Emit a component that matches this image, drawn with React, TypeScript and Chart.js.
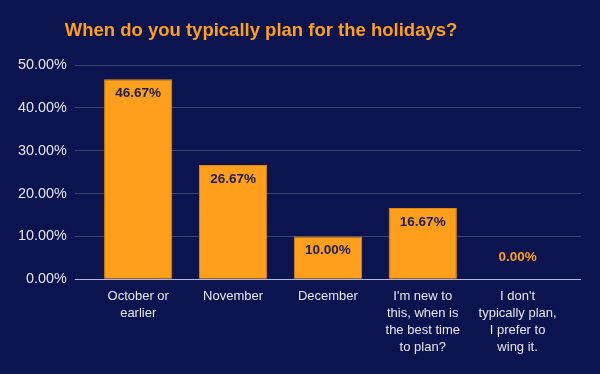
import React, { useEffect, useRef } from "react";
import { Chart, registerables } from "chart.js";

Chart.register(...registerables);

const TITLE = "When do you typically plan for the holidays?";
const categories: (string | string[])[] = [
  ["October or", "earlier"],
  "November",
  "December",
  ["I'm new to", "this, when is", "the best time", "to plan?"],
  ["I don't", "typically plan,", "I prefer to", "wing it."],
];
const values = [46.67, 26.67, 10.0, 16.67, 0.0];
const yTicks = [0, 10, 20, 30, 40, 50];

const BG = "#0c1450";
const ORANGE = "#ff9f1c";
const TEXT = "#e4e6f0";
const FONT = "'Liberation Sans', Arial, sans-serif";

const bgPlugin = {
  id: "bgPlugin",
  beforeDraw(chart: any) {
    const { ctx, width, height } = chart;
    ctx.save();
    ctx.fillStyle = BG;
    ctx.fillRect(0, 0, width, height);
    ctx.restore();
  },
};

const titlePlugin = {
  id: "titlePlugin",
  afterDraw(chart: any) {
    const { ctx } = chart;
    ctx.save();
    ctx.font = `bold 18.5px ${FONT}`;
    ctx.fillStyle = ORANGE;
    ctx.textAlign = "center";
    ctx.textBaseline = "middle";
    ctx.fillText(TITLE, 261, 31);
    ctx.restore();
  },
};

const labelPlugin = {
  id: "labelPlugin",
  afterDatasetsDraw(chart: any) {
    const { ctx } = chart;
    const meta = chart.getDatasetMeta(0);
    ctx.save();
    ctx.font = `bold 13.5px ${FONT}`;
    ctx.textAlign = "center";
    ctx.textBaseline = "middle";
    meta.data.forEach((bar: any, i: number) => {
      const v = values[i];
      const txt = v.toFixed(2) + "%";
      if (v > 0) {
        ctx.fillStyle = "#1a1d45";
        ctx.fillText(txt, bar.x, bar.y + 14);
      } else {
        ctx.fillStyle = ORANGE;
        ctx.fillText(txt, bar.x, bar.base - 22);
      }
    });
    ctx.restore();
  },
};

export default function App() {
  const ref = useRef<HTMLCanvasElement | null>(null);
  useEffect(() => {
    if (!ref.current) return;
    const gridColor = (c: any) =>
      c.tick && c.tick.value === 0 ? "#b4b8d6" : "rgba(255,255,255,0.2)";
    const chart = new Chart(ref.current, {
      type: "bar",
      data: {
        labels: categories,
        datasets: [
          {
            data: values,
            backgroundColor: ORANGE,
            borderColor: "#d88a12",
            borderWidth: (c: any) => (values[c.dataIndex] > 0 ? 1 : 0),
          },
        ],
      },
      options: {
        animation: false,
        responsive: false,
        devicePixelRatio: 1,
        layout: { padding: { top: 65, left: 10, right: 19, bottom: 10 } },
        plugins: {
          legend: { display: false },
          title: { display: false },
          tooltip: { enabled: false },
        },
        scales: {
          x: {
            grid: { display: false, drawTicks: false },
            border: { display: false },
            ticks: {
              color: TEXT,
              font: { family: FONT, size: 13, lineHeight: 1.32 },
              padding: 8,
              maxRotation: 0,
              autoSkip: false,
            },
          },
          y: {
            min: 0,
            max: 50,
            afterBuildTicks: (axis: any) => {
              axis.ticks = yTicks.map((v) => ({ value: v }));
            },
            grid: { color: gridColor, drawTicks: true, tickLength: 16, lineWidth: 1 },
            border: { display: false },
            ticks: {
              color: TEXT,
              font: { family: FONT, size: 14.4 },
              padding: 8,
              callback: (v: any) => Number(v).toFixed(2) + "%",
            },
          },
          y2: {
            position: "right",
            min: 0,
            max: 50,
            afterBuildTicks: (axis: any) => {
              axis.ticks = yTicks.map((v) => ({ value: v }));
            },
            grid: { color: gridColor, drawOnChartArea: false, drawTicks: true, tickLength: 16 },
            border: { display: false },
            ticks: { display: false },
          },
        },
      },
      plugins: [bgPlugin, titlePlugin, labelPlugin],
    } as any);
    return () => chart.destroy();
  }, []);
  return (
    <div style={{ position: "absolute", left: 0, top: 0, width: 600, height: 374, background: BG }}>
      <canvas ref={ref} width={600} height={374} style={{ display: "block", width: 600, height: 374 }} />
    </div>
  );
}
